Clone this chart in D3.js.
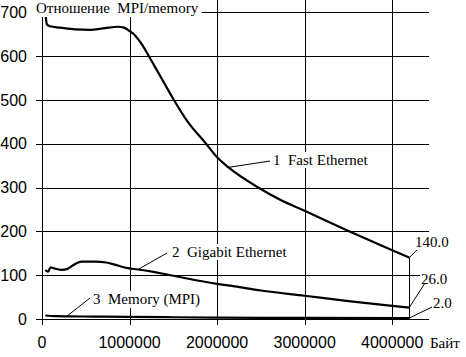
<!DOCTYPE html>
<html>
<head>
<meta charset="utf-8">
<script src="https://cdn.jsdelivr.net/npm/d3@7"></script>
<style>
  html, body { margin: 0; padding: 0; background: #fff; }
  svg { display: block; }
  .tick-label { font-family: "Liberation Sans", Arial, sans-serif; font-size: 16px; fill: #000; }
  .serif { font-family: "Liberation Serif", "Times New Roman", serif; font-size: 15px; fill: #000; white-space: pre; }
</style>
</head>
<body>
<svg id="chart" width="466" height="357"></svg>
<script>
// ---- Data ----
const xTicks = [0, 1000000, 2000000, 3000000, 4000000];
const yTicks = [0, 100, 200, 300, 400, 500, 600, 700];

const bytesFast = [42000, 57000, 91000, 206000, 377000, 549000, 720000, 869000, 937000, 1000000,
  1050000, 1100000, 1150000, 1200000, 1300000, 1400000, 1500000, 1657000, 1874000, 2000000,
  2130000, 2470000, 2720000, 3000000, 3500000, 4000000, 4194304];
const fastEthernet = [692, 672, 668, 665, 661, 660, 664, 667, 665, 657,
  650, 638, 624, 607, 572, 537, 502, 452, 400, 369,
  346, 300, 272, 247, 201, 157, 140];

const bytesGiga = [38000, 69000, 99000, 145000, 221000, 297000, 374000, 449000, 602000, 735000,
  831000, 983000, 1097000, 1288000, 1440000, 2000000, 2150000, 2500000, 3000000, 3500000,
  4000000, 4194304];
const gigabitEthernet = [112, 108, 118, 115, 112, 115, 125, 131, 131, 129,
  124, 116, 113, 107, 101, 80, 76, 65, 53, 41,
  30, 26];

const bytesMem = [38000, 150000, 300000, 600000, 1000000, 1500000, 2000000, 3000000, 4194304];
const memoryMPI = [8, 6.5, 6, 5.5, 5, 4, 3, 2.5, 2];

const seriesNames = ["1  Fast Ethernet", "2  Gigabit Ethernet", "3  Memory (MPI)"];
const endLabels = ["140.0", "26.0", "2.0"];
const titleText = "Отношение  MPI/memory";
const xUnit = "Байт";

// ---- Chart ----
const svg = d3.select("#chart");
const x = d3.scaleLinear().domain([0, 4420000]).range([42, 429]);
const y = d3.scaleLinear().domain([0, 728]).range([319, 0]);
const tick = 6;

const grid = svg.append("g").attr("shape-rendering", "crispEdges").attr("stroke", "#000").attr("stroke-width", 1);
// horizontal grid lines (with outward tick)
grid.selectAll(".hg").data(yTicks).join("line")
  .attr("x1", x(0) - tick).attr("x2", x.range()[1])
  .attr("y1", d => Math.round(y(d)) + 0.5).attr("y2", d => Math.round(y(d)) + 0.5);
// vertical grid lines (with outward tick)
grid.selectAll(".vg").data(xTicks).join("line")
  .attr("y1", y.range()[1]).attr("y2", y(0) + tick)
  .attr("x1", d => Math.round(x(d)) + 0.5).attr("x2", d => Math.round(x(d)) + 0.5);

// tick labels
svg.append("g").selectAll("text").data(yTicks).join("text")
  .attr("class", "tick-label")
  .attr("x", 27).attr("y", d => y(d)).attr("dy", "0.35em")
  .attr("text-anchor", "end").text(d => d);
svg.append("g").selectAll("text").data(xTicks).join("text")
  .attr("class", "tick-label")
  .attr("x", d => x(d)).attr("y", 348)
  .attr("text-anchor", "middle").text(d => d);

svg.append("text").attr("class", "serif").attr("x", 430).attr("y", 348).text(xUnit);

// series lines
const line = d3.line().x(d => x(d[0])).y(d => y(d[1])).curve(d3.curveMonotoneX);
const series = [
  d3.zip(bytesFast, fastEthernet),
  d3.zip(bytesGiga, gigabitEthernet),
  d3.zip(bytesMem, memoryMPI)
];
svg.append("g").selectAll("path").data(series).join("path")
  .attr("d", line).attr("fill", "none").attr("stroke", "#000").attr("stroke-width", 2.2)
  .attr("stroke-linejoin", "round");

// vertical drop line at the last point
const lastX = bytesFast[bytesFast.length - 1];
svg.append("line").attr("shape-rendering", "crispEdges")
  .attr("x1", Math.round(x(lastX)) + 0.5).attr("x2", Math.round(x(lastX)) + 0.5)
  .attr("y1", y(fastEthernet[fastEthernet.length - 1])).attr("y2", y(0))
  .attr("stroke", "#000").attr("stroke-width", 1);

function valueAt(xs, ys, b) {
  const i = d3.bisectLeft(xs, b);
  if (i <= 0) return ys[0];
  if (i >= xs.length) return ys[ys.length - 1];
  const t = (b - xs[i - 1]) / (xs[i] - xs[i - 1]);
  return ys[i - 1] + t * (ys[i] - ys[i - 1]);
}

function labelWithBg(g, tx, ty, text) {
  const t = g.append("text").attr("class", "serif").attr("x", tx).attr("y", ty).text(text);
  const bb = t.node().getBBox();
  g.insert("rect", "text").attr("x", bb.x - 1).attr("y", bb.y).attr("width", bb.width + 2)
    .attr("height", bb.height).attr("fill", "#fff");
  return t;
}

const ann = svg.append("g");
const nameLayout = [
  { xs: bytesFast, ys: fastEthernet, at: 2130000, tx: 273, ty: 165, lx: 270, ly: 161 },
  { xs: bytesGiga, ys: gigabitEthernet, at: 1097000, tx: 172, ty: 257, lx: 167, ly: 253 },
  { xs: bytesMem, ys: memoryMPI, at: 282000, tx: 93, ty: 304, lx: 90, ly: 298 }
];
nameLayout.forEach((L, i) => {
  const g = ann.append("g");
  g.append("line").attr("x1", x(L.at)).attr("y1", y(valueAt(L.xs, L.ys, L.at)))
    .attr("x2", L.lx).attr("y2", L.ly).attr("stroke", "#000").attr("stroke-width", 1);
  labelWithBg(g, L.tx, L.ty, seriesNames[i]);
});

// end value labels
const endVals = [fastEthernet[fastEthernet.length - 1], gigabitEthernet[gigabitEthernet.length - 1], memoryMPI[memoryMPI.length - 1]];
const endLayout = [
  { tx: 415, ty: 247, lx: 417, ly: 250 },
  { tx: 421, ty: 284, lx: 425, ly: 283 },
  { tx: 433, ty: 308, lx: 432, ly: 307 }
];
endLayout.forEach((L, i) => {
  const g = ann.append("g");
  labelWithBg(g, L.tx, L.ty, endLabels[i]);
  g.append("line").attr("x1", x(lastX)).attr("y1", y(endVals[i]))
    .attr("x2", L.lx).attr("y2", L.ly).attr("stroke", "#000").attr("stroke-width", 1);
});

// title with white background
const tg = svg.append("g");
const tt = tg.append("text").attr("class", "serif")
  .attr("x", 36).attr("y", 13).text(titleText);
const tb = tt.node().getBBox();
tg.insert("rect", "text").attr("x", tb.x - 3).attr("y", 0).attr("width", tb.width + 6)
  .attr("height", tb.y + tb.height + 1).attr("fill", "#fff");
</script>
</body>
</html>
